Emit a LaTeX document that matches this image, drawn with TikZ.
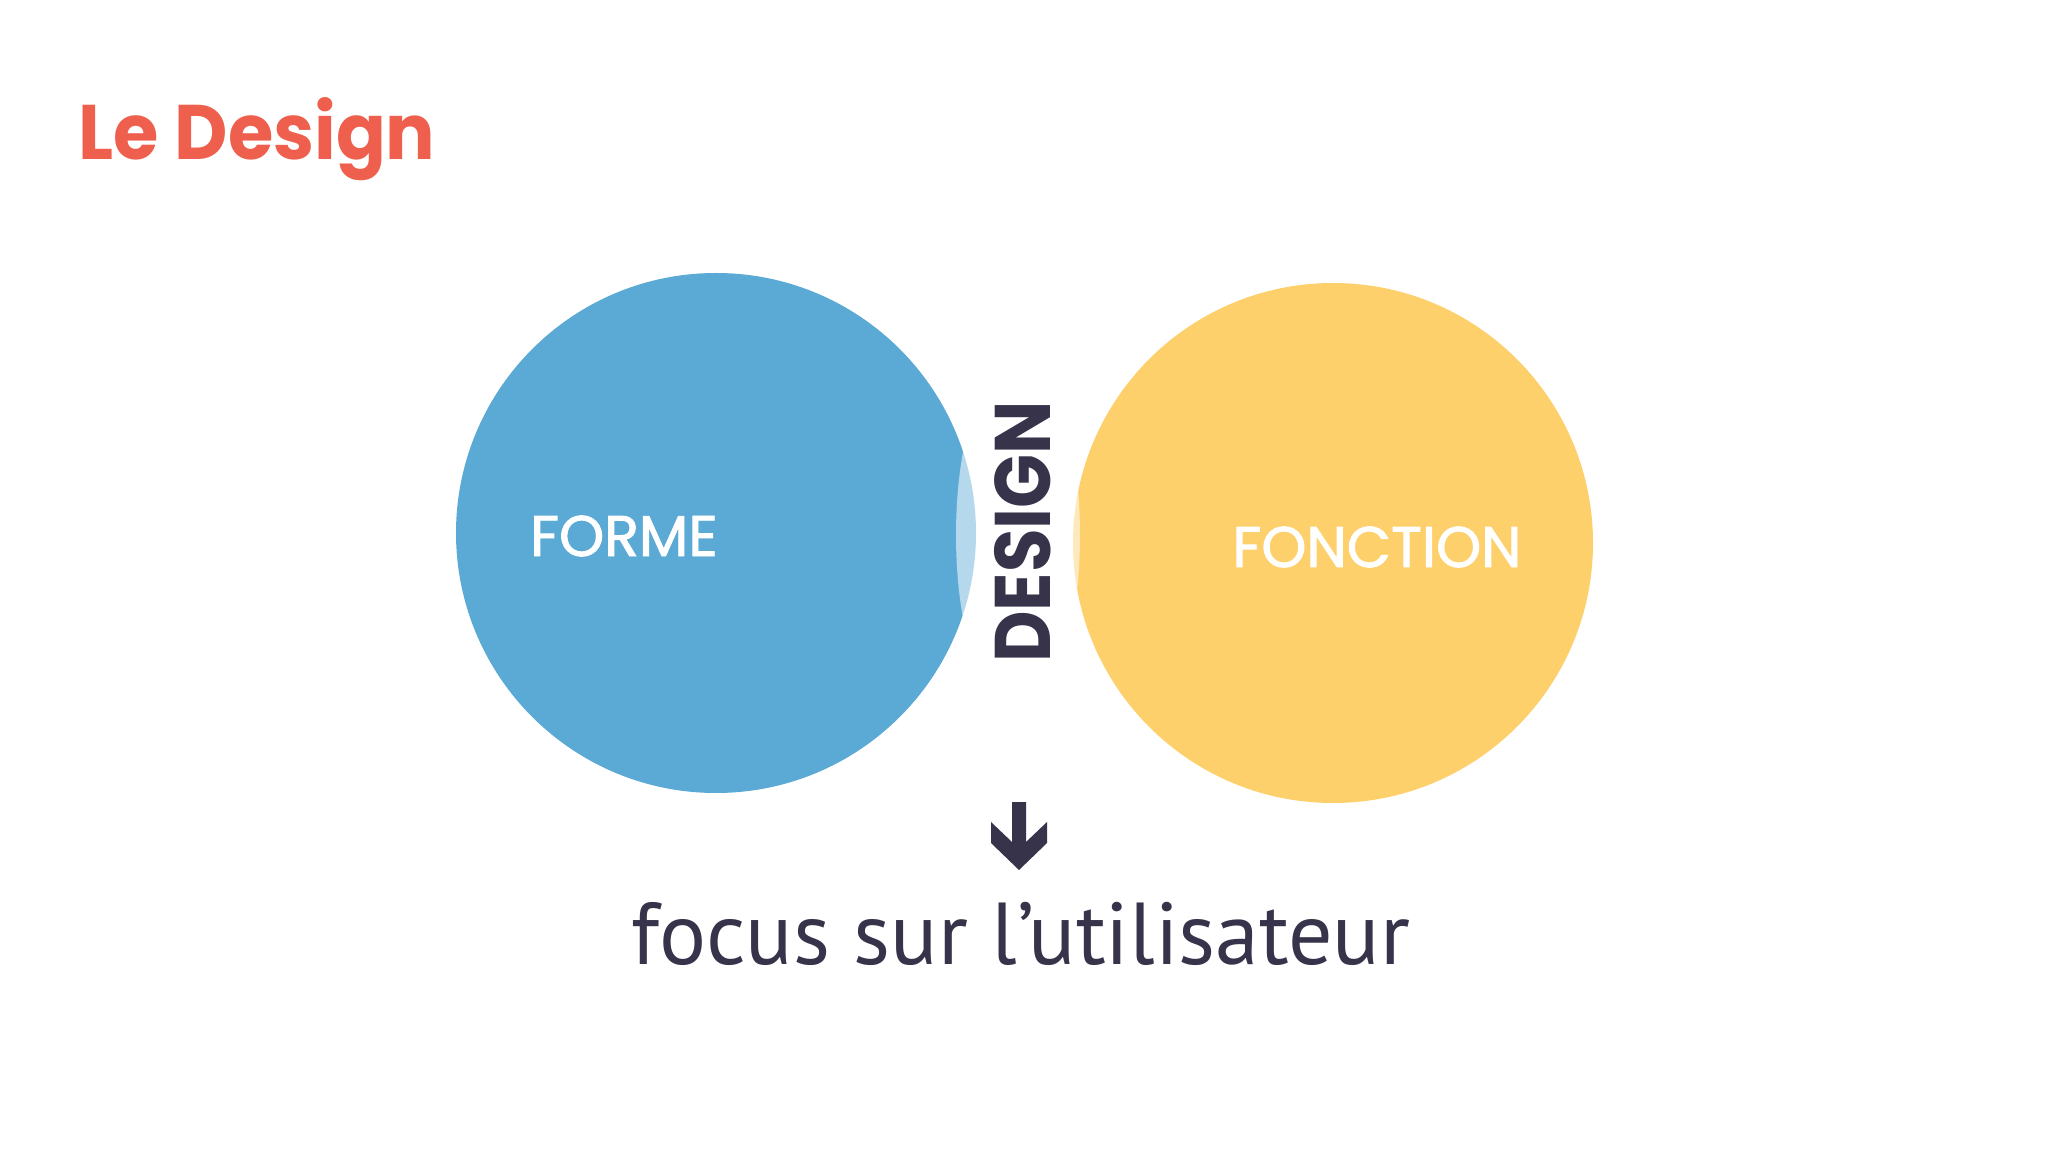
\documentclass[tikz,border=0pt]{standalone}
\usepackage{fontspec}
\usepackage{tikz}
\newfontfamily\poppins{Poppins}
\newfontfamily\poppinstitle{Poppins}[FakeStretch=0.95]
\newfontfamily\poppinsnarrow{Poppins}[FakeStretch=0.9]
\newfontfamily\poppinsmid{Poppins}[FakeBold=1.6]
\newfontfamily\ptsans{PT Sans}
\definecolor{titlered}{HTML}{EE5F4D}
\definecolor{formeblue}{HTML}{5BAAD6}
\definecolor{fonctyellow}{HTML}{FDD06B}
\definecolor{inkdark}{HTML}{37334A}
\tikzstyle{bigdisc}=[draw=none]
\tikzstyle{label in}=[text=white,inner sep=0pt,
                      font=\poppinsmid\fontsize{16.3}{18}\selectfont]
\tikzstyle{arrowmark}=[fill=inkdark,draw=none]

\begin{document}
\begin{tikzpicture}[x=0.01cm,y=-0.01cm]
    \useasboundingbox[fill=white] (0,0) rectangle (2048,1152);
    % title
    \node (title) at (78,160) [anchor=base west,inner sep=0pt,text=titlered,
          font=\poppinstitle\bfseries\fontsize{22}{26}\selectfont]{Le Design};
    % the two discs
    \fill[formeblue,bigdisc] (716,533) circle [radius=260];
    \fill[fonctyellow,bigdisc] (1333,543) circle [radius=260];
    \fill[white,opacity=0.55] (1018,535) ellipse [x radius=62,y radius=180];
    \node (forme) at (624,536) [label in]{FORME};
    \node (fonction) at (1377,547) [label in]{FONCTION};
    \node (design) at (1050,532) [anchor=base,rotate=90,inner sep=0pt,text=inkdark,
          font=\poppinsnarrow\bfseries\fontsize{22.4}{26}\selectfont]{DESIGN};
    % arrow down
    \fill[arrowmark] (991,822) -- (1012,842) -- (1012,802) -- (1026,802)
        -- (1026,842) -- (1047,822) -- (1047,843) -- (1019,870)
        -- (991,843) -- cycle;
    \node (focus) at (1021,964) [anchor=base,inner sep=0pt,text=inkdark,
          font=\ptsans\fontsize{25}{30}\selectfont]{focus sur l’utilisateur};
  \end{tikzpicture}
\end{document}
